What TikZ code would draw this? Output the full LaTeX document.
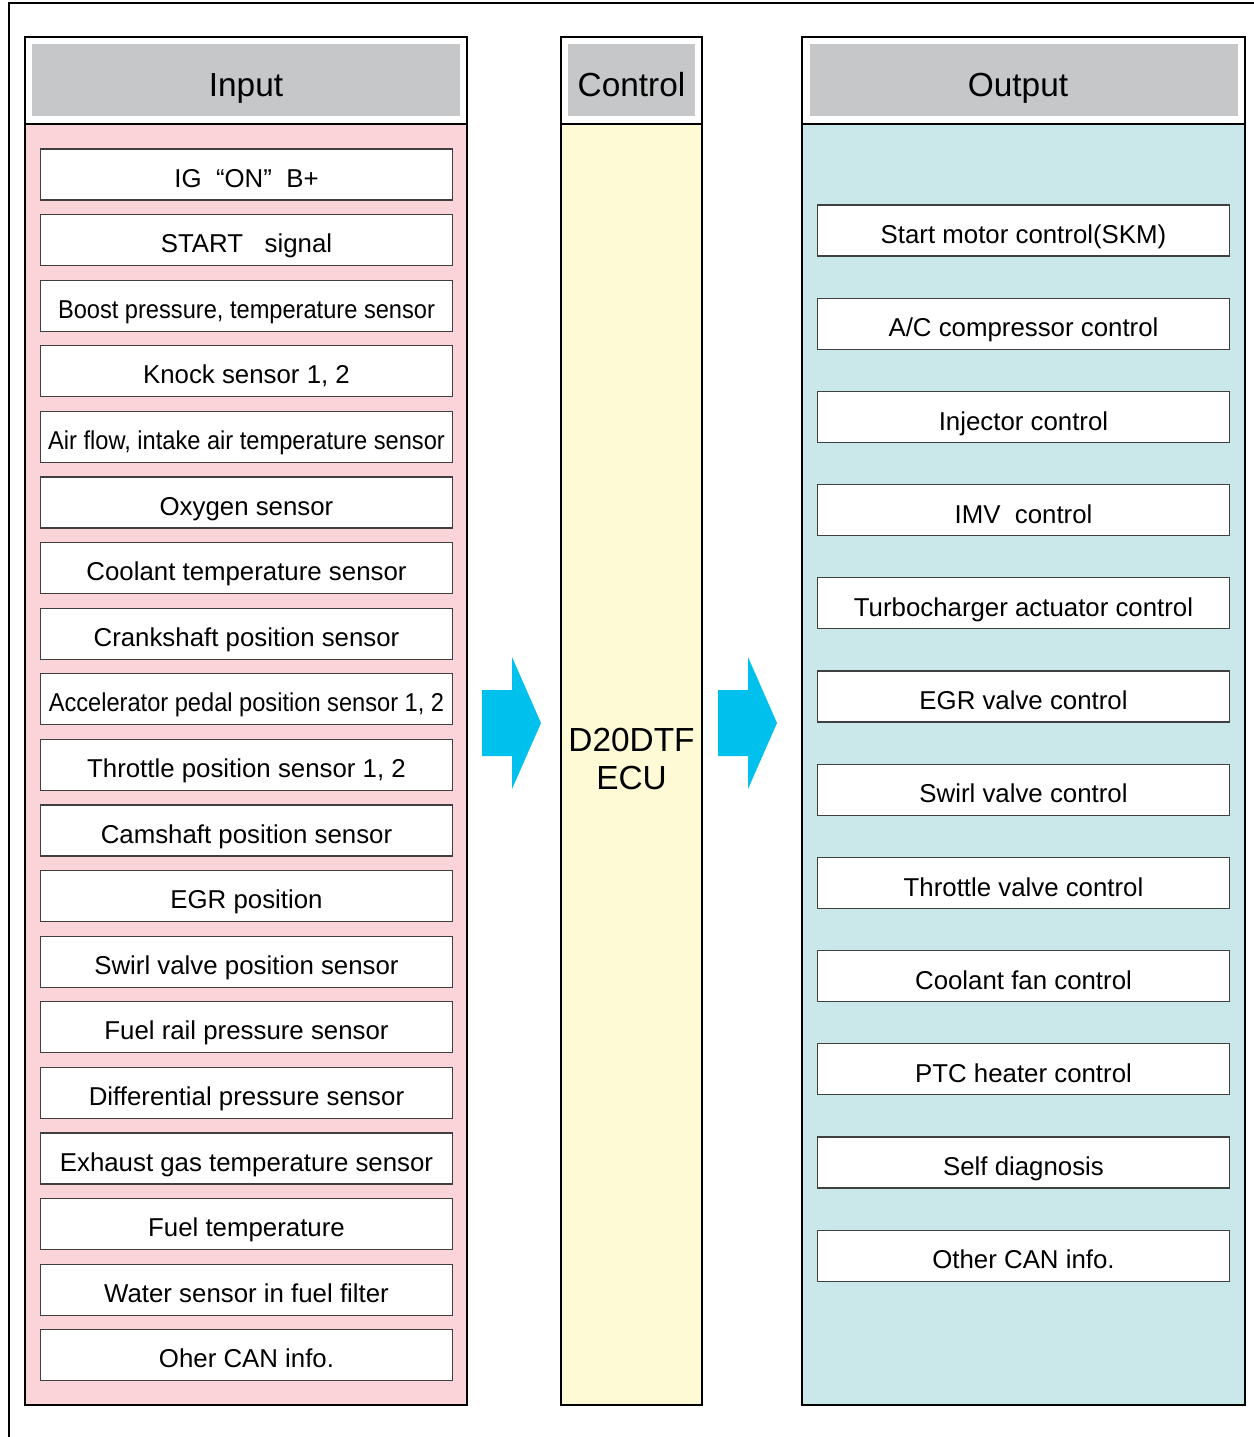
\documentclass[tikz,border=0pt]{standalone}
\usepackage{fontspec}
\setmainfont{Liberation Sans}
\newfontfamily\narrowfont[FakeStretch=0.915]{Liberation Sans}

\definecolor{headgray}{HTML}{C6C7C9}
\definecolor{inpink}{HTML}{FAD4D9}
\definecolor{ecuyellow}{HTML}{FEFAD6}
\definecolor{outcyan}{HTML}{CAE8EA}
\definecolor{arrowblue}{HTML}{00C0EE}

\tikzset{
  panel/.style={draw=black, line width=1.6pt},
  headtext/.style={font=\fontsize{19}{22}\selectfont, text height=14.8pt, text depth=0pt},
  inbox/.style={draw=black!75, line width=0.6pt, fill=white, minimum width=8.26cm,
    minimum height=1.02cm, inner sep=0pt, text height=14.4pt, text depth=0pt,
    font=\fontsize{14.7}{16}\selectfont},
  outbox/.style={inbox, minimum width=8.24cm, text height=15pt},
}

\begin{document}
\begin{tikzpicture}[x=0.02cm, y=-0.02cm]
  \useasboundingbox (0,0) rectangle (1254,1437);

  % outer frame, only left and top show
  \draw[line width=1.2pt] (9,1437) -- (9,3) -- (1254,3);

  % Input column
  \fill[white] (25,37) rectangle (467,124);
  \fill[headgray] (32,44) rectangle (460,116);
  \fill[inpink] (25,124) rectangle (467,1405);
  \draw[panel] (25,37) rectangle (467,1405);
  \draw[panel] (25,124) -- (467,124);
  \node[headtext] (inhead) at (246,83) {Input};

  % Control column
  \fill[white] (561,37) rectangle (702,124);
  \fill[headgray] (568,44) rectangle (695,116);
  \fill[ecuyellow] (561,124) rectangle (702,1405);
  \draw[panel] (561,37) rectangle (702,1405);
  \draw[panel] (561,124) -- (702,124);
  \node[headtext] (ctrlhead) at (631.5,83) {Control};
  \node[align=center, font=\fontsize{19}{21.5}\selectfont] (ecu) at (631.5,759) {D20DTF\\ECU};

  % Output column
  \fill[white] (802,37) rectangle (1245,124);
  \fill[headgray] (810,44) rectangle (1238,116);
  \fill[outcyan] (802,124) rectangle (1245,1405);
  \draw[panel] (802,37) rectangle (1245,1405);
  \draw[panel] (802,124) -- (1245,124);
  \node[headtext] (outhead) at (1018,83) {Output};

  % input signals
  \foreach \txt [count=\i] in {IG\ \ “ON”\ \ B+, START\ \ \ signal,
      {\narrowfont Boost pressure, temperature sensor}, {Knock sensor 1, 2},
      {\narrowfont Air flow, intake air temperature sensor}, Oxygen sensor,
      Coolant temperature sensor, Crankshaft position sensor,
      {\narrowfont Accelerator pedal position sensor 1, 2}, {Throttle position sensor 1, 2},
      Camshaft position sensor, EGR position, Swirl valve position sensor,
      Fuel rail pressure sensor, Differential pressure sensor,
      Exhaust gas temperature sensor, Fuel temperature,
      Water sensor in fuel filter, Oher CAN info.}
    \node[inbox] (in\i) at (246.5,{174.5+65.6*(\i-1)}) {\txt};

  % output controls
  \foreach \txt [count=\i] in {Start motor control(SKM), A/C compressor control,
      Injector control, IMV\ \ control, Turbocharger actuator control,
      EGR valve control, Swirl valve control, Throttle valve control,
      Coolant fan control, PTC heater control, Self diagnosis, Other CAN info.}
    \node[outbox] (out\i) at (1023.5,{230.5+93.2*(\i-1)}) {\txt};

  % big arrows
  \foreach \ax in {482,718}
    \fill[arrowblue] (\ax,690) -- ++(30,0) -- ++(0,-33) -- ++(29,66)
      -- ++(-29,66) -- ++(0,-33) -- ++(-30,0) -- cycle;
\end{tikzpicture}
\end{document}
